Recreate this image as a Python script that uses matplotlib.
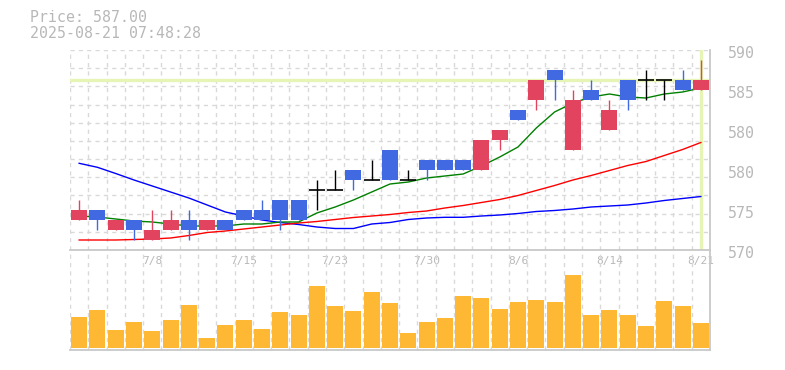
import matplotlib.pyplot as plt
import matplotlib.transforms as mtransforms
import numpy as np

# daily candles, 7/2 .. 8/21
opens = [573, 574, 572, 573, 571, 572, 573, 572, 573, 574, 574, 575, 575, 576, 576, 578, 577, 580,
         577, 579, 579, 579, 578, 581, 584, 585, 588, 580, 586, 582, 587, 587, 587, 587, 586]
closes = [574, 573, 573, 572, 572, 573, 572, 573, 572, 573, 573, 573, 573, 576, 576, 577, 577, 577,
          577, 578, 578, 578, 581, 582, 583, 587, 587, 585, 585, 584, 585, 587, 587, 586, 587]
highs = [575, 574, 573, 573, 574, 574, 574, 573, 573, 574, 575, 575, 575, 577, 578, 578, 579, 580,
         578, 579, 579, 579, 581, 582, 584, 587, 588, 586, 587, 585, 587, 588, 587, 588, 589]
lows = [573, 572, 572, 571, 571, 572, 571, 572, 572, 573, 573, 572, 573, 574, 576, 576, 577, 577,
        577, 577, 578, 578, 578, 580, 583, 584, 585, 580, 585, 582, 584, 585, 585, 586, 586]

# moving averages
ma_short = [573.4, 573.3, 573.1, 572.9, 572.8, 572.6, 572.4, 572.4, 572.4, 572.6, 572.6, 572.8,
            572.8, 573.7, 574.3, 575.0, 575.8, 576.6, 576.8, 577.2, 577.4, 577.6, 578.4, 579.3,
            580.3, 582.2, 583.8, 584.7, 585.3, 585.6, 585.3, 585.2, 585.6, 585.8, 586.2]
ma_mid = [571.0, 571.0, 571.0, 571.05, 571.1, 571.2, 571.45, 571.75, 571.9, 572.1, 572.3, 572.5,
          572.7, 572.85, 573.05, 573.25, 573.4, 573.55, 573.75, 573.9, 574.2, 574.45, 574.75,
          575.05, 575.45, 575.95, 576.45, 577.0, 577.45, 577.95, 578.45, 578.85, 579.45, 580.05, 580.75]
ma_long = [578.67, 578.27, 577.65, 577.0, 576.4, 575.8, 575.2, 574.5, 573.8, 573.4, 573.0, 572.75,
           572.55, 572.3, 572.15, 572.15, 572.6, 572.75, 573.05, 573.2, 573.27, 573.27, 573.4,
           573.5, 573.65, 573.85, 573.95, 574.1, 574.3, 574.4, 574.5, 574.7, 574.95, 575.15, 575.35]

# volume (thousand shares, approx)
volume = [31, 38, 18, 26, 17, 28, 43, 10, 23, 28, 19, 36, 33, 62, 42, 37, 56, 45,
          15, 26, 30, 52, 50, 39, 46, 48, 46, 73, 33, 38, 33, 22, 47, 42, 25]

tick_idx = [4, 9, 14, 19, 24, 29, 34]
tick_labels = ['7/8', '7/15', '7/23', '7/30', '8/6', '8/14', '8/21']

ylabel_vals = [590, 586, 582, 578, 574, 570]
ylabel_text = ['590', '585', '580', '580', '575', '570']

last_price = 587.00
stamp = '2025-08-21 07:48:28'

up_col = '#e2445f'
down_col = '#4169e1'
grid_col = '#d9d9d9'
axis_col = '#c8c8c8'
text_col = '#b8b8b8'
mono = 'DejaVu Sans Mono'

n = len(opens)
x = np.arange(n)

fig = plt.figure(figsize=(7.85, 3.7), dpi=100)
ax = fig.add_axes([70 / 785, 120 / 370, 640 / 785, 200 / 370])
axv = fig.add_axes([70 / 785, 20 / 370, 640 / 785, 100 / 370])
axv.set_facecolor('none')

for a in (ax, axv):
    a.set_xlim(-0.5, n - 0.5)
    a.set_xticks(np.arange(-0.5, n), minor=True)
    a.grid(which='minor', axis='x', color=grid_col, linestyle=(0, (3, 3)), lw=1)
    a.tick_params(which='both', length=0)
    for s in ('top', 'left'):
        a.spines[s].set_visible(False)
    for s in ('bottom', 'right'):
        a.spines[s].set_color(axis_col)
        a.spines[s].set_linewidth(1.3)
    a.set_axisbelow(True)

# price panel
ax.set_ylim(570, 590)
ax.set_yticks([])
ax.set_yticks(np.linspace(570, 590, 12), minor=True)
ax.set_yticklabels([], minor=True)
ax.grid(which='minor', axis='y', color=grid_col, linestyle=(0, (3, 3)), lw=1)
ax.set_xticks(tick_idx, tick_labels)
ax.tick_params(axis='x', which='major', pad=4, labelsize=8, labelcolor=text_col)
for lab in ax.get_xticklabels():
    lab.set_family(mono)

# highlight of last price / last day
ax.axhline(last_price, color='#e6f5b5', lw=2.4, zorder=1)
ax.axvline(x[-1], color='#e6f5b5', lw=2.4, zorder=1)

ax.plot(x, ma_long, color='#0000ff', lw=1, zorder=2)
ax.plot(x, ma_mid, color='#ff0000', lw=1, zorder=2)
ax.plot(x, ma_short, color='#008000', lw=1, zorder=2)

w = 0.875
for i in range(n):
    o, c, h, l = opens[i], closes[i], highs[i], lows[i]
    if c > o:
        col = up_col
    elif c < o:
        col = down_col
    else:
        col = 'black'
    ax.vlines(i, l, h, color=col, lw=1, zorder=3)
    if c == o:
        ax.hlines(c, i - w / 2, i + w / 2, color=col, lw=1.2, zorder=3)
    else:
        ax.bar(i, abs(c - o), bottom=min(o, c), width=w, color=col, zorder=4)

trans = mtransforms.blended_transform_factory(ax.transAxes, ax.transData) + \
    mtransforms.ScaledTranslation(0.18, -0.03, fig.dpi_scale_trans)
for v, t in zip(ylabel_vals, ylabel_text):
    ax.text(1, v, t, transform=trans, ha='left', va='center', family=mono,
            fontsize=10.7, color=text_col)

# volume panel
axv.bar(x, volume, width=w, color='#ffb833', zorder=2)
axv.set_ylim(-1.7, 98.3)
axv.set_xticks([])
axv.set_yticks([])

fig.text(30 / 785, 1 - 18 / 370, f'Price: {last_price:.2f}', family=mono, fontsize=10.7,
         color=text_col, va='center')
fig.text(30 / 785, 1 - 33.5 / 370, stamp, family=mono, fontsize=10.7,
         color=text_col, va='center')

fig.savefig('out.png', dpi=100)
plt.close()
